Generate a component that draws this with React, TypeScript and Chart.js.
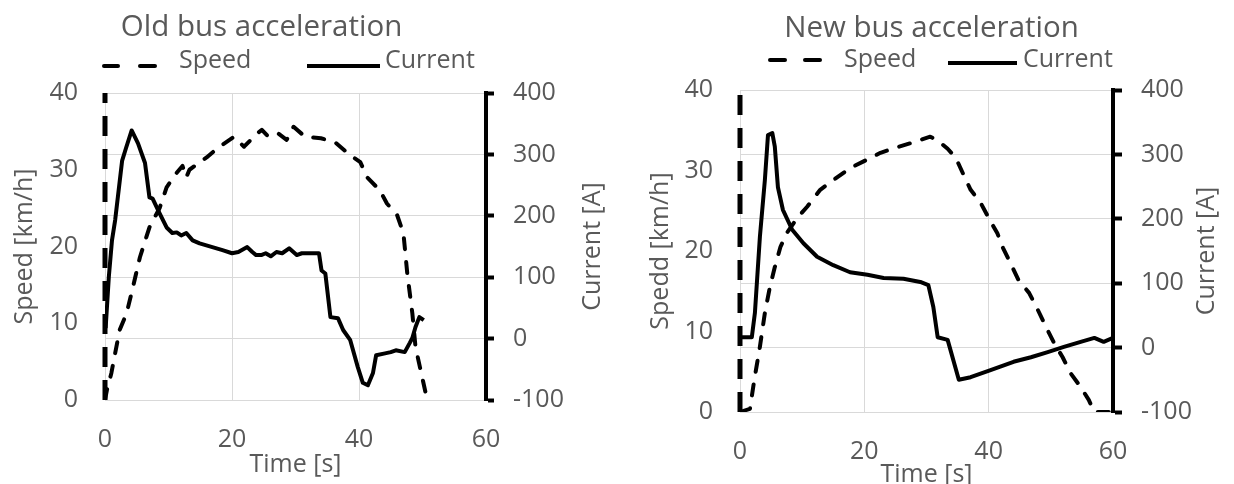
import { useEffect, useRef } from "react";
import { Chart, registerables } from "chart.js";

Chart.register(...registerables);

// ---------- tick labels ----------
const timeTicks = [0, 20, 40, 60];
const speedTicks = [0, 10, 20, 30, 40];
const currentTicks = [-100, 0, 100, 200, 300, 400];

// ---------- Old bus ----------
const oldTitle = "Old bus acceleration";
const oldSpeedAxisTitle = "Speed [km/h]";
const oldSpeedTime = [0, 0.3, 1, 1.6, 2.3, 3.4, 4.4, 5.5, 7, 8.6, 9.7, 11.2, 12.2, 12.8, 13.3, 16, 17.7, 20.3, 21.9, 23.9, 24.7, 25.5, 27, 28.6, 29.7, 31.5, 34, 36.2, 38.6, 40.2, 41.3, 43.3, 44.4, 46, 47, 47.6, 48.4, 48.9, 49.7, 50.5];
const oldSpeed = [0, 1.3, 3.5, 6.1, 9.1, 11.3, 14.7, 18.6, 22.5, 25, 27.7, 29.5, 30.5, 29, 30, 31.6, 32.8, 34.3, 33, 34.7, 35.2, 34.5, 34.9, 33.9, 35.6, 34.3, 34.1, 33.6, 31.9, 31, 29, 27.3, 25.6, 24.1, 21.7, 16.5, 11.3, 6.9, 3.9, 0.9];
const oldCurrentTime = [0.1, 0.6, 1.1, 1.6, 2.7, 3.3, 4.2, 5.2, 6.3, 7, 7.5, 8.6, 9.7, 10.6, 11.3, 12, 12.8, 13.8, 14.9, 16.9, 18.5, 20, 21, 22.4, 23.2, 23.8, 24.6, 25.3, 26.1, 27, 27.9, 29, 30.2, 31, 33.7, 34.1, 34.7, 35.5, 36.7, 37.5, 38.6, 39.8, 40.6, 41.4, 42.2, 42.7, 44.1, 45, 45.8, 47.2, 48, 48.4, 48.9, 49.5, 50.2];
const oldCurrent = [17, 100, 160, 193, 290, 310, 339, 318, 286, 230, 228, 204, 181, 172, 173, 168, 172, 160, 155, 149, 144, 139, 141, 149, 141, 136, 136, 139, 134, 141, 139, 147, 136, 139, 139, 111, 106, 35, 33, 14, -2, -46, -72, -76, -56, -27, -24, -22, -19, -22, -7, 1, 19, 35, 30];

// ---------- New bus ----------
const newTitle = "New bus acceleration";
const newSpeedAxisTitle = "Spedd [km/h]";
const newSpeedTime = [0, 1.6, 2.3, 3.2, 4, 4.8, 5.6, 6.5, 7.5, 9.2, 10.8, 12.9, 15, 17.7, 19.8, 22.6, 25.3, 27.9, 30.6, 32, 33.4, 34.7, 36, 37.1, 38.7, 40, 41.4, 42.3, 43.5, 44.8, 46.5, 47.9, 49.2, 50.5, 51.9, 53.2, 54.8, 56.1, 57, 60];
const newSpeed = [0, 0.4, 4, 8.1, 12.3, 15.5, 18, 20.5, 22.2, 24.1, 25.5, 27.6, 28.8, 30.3, 31.1, 32.2, 32.9, 33.5, 34.2, 33.6, 32.7, 31.6, 29.4, 27.6, 26, 24.1, 22.2, 20.4, 18.5, 16.4, 14.8, 12.7, 10.6, 8.6, 6.8, 4.8, 3.1, 1.5, 0, 0];
const newCurrentTime = [0, 1.9, 2.4, 3.2, 4, 4.5, 5.2, 5.6, 6.1, 6.9, 8.4, 10.2, 12.4, 15, 17.7, 20.5, 23.1, 26.3, 29, 30.3, 31.1, 31.8, 33.4, 35.2, 37.1, 40.3, 44, 46.8, 49.5, 52.1, 54.8, 57, 58.5, 60];
const newCurrent = [16, 16, 54, 172, 260, 330, 333, 312, 249, 214, 183, 162, 141, 128, 117, 113, 108, 107, 102, 97, 63, 16, 12, -50, -46, -35, -22, -15, -7, 1, 9, 15, 9, 15];

const seriesNames = ["Speed", "Current"];
const timeAxisTitle = "Time [s]";
const currentAxisTitle = "Current [A]";

const FONT = '"Open Sans", sans-serif';
const TEXT = "#595959";
const GRID = "#d9d9d9";

type Layout = {
  areaTop: number;
  leftW: number;
  rightW: number;
  xH: number;
  leftTitlePad: number;
  xTitlePad: number;
  rightTitleX: number;
  titleX: number;
  titleY: number;
  dashes: number[][];
  dashY: number;
  lineX: number[];
  lineY: number;
  speedTextX: number;
  currentTextX: number;
  legendBase: number;
  tickLen: number;
};

function buildConfig(
  title: string,
  speedTitle: string,
  sT: number[],
  sV: number[],
  cT: number[],
  cV: number[],
  L: Layout
): any {
  const speedPts = sT.map((t, i) => ({ x: t, y: sV[i] }));
  const currPts = cT.map((t, i) => ({ x: t, y: cV[i] }));
  const tickFont = { family: FONT, size: 25 };
  const overlay = {
    id: "overlay",
    beforeDatasetsDraw(chart: any) {
      // dashed speed axis line (left), drawn from the bottom upward
      const ctx = chart.ctx as CanvasRenderingContext2D;
      const ca = chart.chartArea;
      ctx.save();
      ctx.strokeStyle = "#000";
      ctx.lineWidth = 5;
      ctx.setLineDash([20, 13]);
      ctx.lineCap = "butt";
      ctx.beginPath();
      ctx.moveTo(ca.left, ca.bottom);
      ctx.lineTo(ca.left, ca.top);
      ctx.stroke();
      ctx.restore();
    },
    afterDraw(chart: any) {
      const ctx = chart.ctx as CanvasRenderingContext2D;
      const ca = chart.chartArea;
      ctx.save();
      ctx.fillStyle = TEXT;
      ctx.font = `29.5px ${FONT}`;
      ctx.textAlign = "center";
      ctx.textBaseline = "alphabetic";
      ctx.fillText(title, L.titleX, L.titleY);
      // legend
      ctx.strokeStyle = "#000";
      ctx.lineWidth = 4;
      ctx.lineCap = "round";
      for (const d of L.dashes) {
        ctx.beginPath();
        ctx.moveTo(d[0], L.dashY);
        ctx.lineTo(d[1], L.dashY);
        ctx.stroke();
      }
      ctx.lineCap = "butt";
      ctx.beginPath();
      ctx.moveTo(L.lineX[0], L.lineY);
      ctx.lineTo(L.lineX[1], L.lineY);
      ctx.stroke();
      ctx.font = `25px ${FONT}`;
      ctx.textAlign = "left";
      ctx.fillText(chart.data.datasets[0].label, L.speedTextX, L.legendBase);
      ctx.fillText(chart.data.datasets[1].label, L.currentTextX, L.legendBase);
      // right axis title, reading upward
      ctx.translate(L.rightTitleX, (ca.top + ca.bottom) / 2);
      ctx.rotate(-Math.PI / 2);
      ctx.textAlign = "center";
      ctx.textBaseline = "middle";
      ctx.fillText(currentAxisTitle, 0, 0);
      ctx.restore();
    },
  };

  return {
    type: "line",
    data: {
      datasets: [
        {
          label: seriesNames[0],
          data: speedPts,
          yAxisID: "ySpeed",
          borderColor: "#000",
          borderWidth: 4,
          borderDash: [11, 13],
          borderCapStyle: "round",
          borderJoinStyle: "round",
          pointRadius: 0,
          tension: 0,
          fill: false,
        },
        {
          label: seriesNames[1],
          data: currPts,
          yAxisID: "yCurrent",
          borderColor: "#000",
          borderWidth: 4,
          borderJoinStyle: "round",
          pointRadius: 0,
          tension: 0,
          fill: false,
        },
      ],
    },
    options: {
      animation: false,
      responsive: false,
      devicePixelRatio: 1,
      layout: { padding: { top: L.areaTop, left: 0, right: 0, bottom: 0 } },
      plugins: {
        legend: { display: false },
        title: { display: false },
        tooltip: { enabled: false },
      },
      scales: {
        x: {
          type: "linear",
          min: 0,
          max: 60,
          afterBuildTicks: (s: any) => {
            s.ticks = timeTicks.map((v) => ({ value: v }));
          },
          afterFit: (s: any) => {
            s.height = L.xH;
          },
          grid: { color: GRID, lineWidth: 1, drawTicks: false },
          border: { color: GRID, width: 1 },
          ticks: { font: tickFont, color: TEXT, padding: 25, maxRotation: 0 },
          title: {
            display: true,
            text: timeAxisTitle,
            font: { family: FONT, size: 25, lineHeight: 1 },
            color: TEXT,
            padding: { top: 0, bottom: L.xTitlePad },
          },
        },
        ySpeed: {
          type: "linear",
          position: "left",
          min: 0,
          max: 40,
          afterBuildTicks: (s: any) => {
            s.ticks = speedTicks.map((v) => ({ value: v }));
          },
          afterFit: (s: any) => {
            s.width = L.leftW;
          },
          grid: { drawOnChartArea: false, drawTicks: false },
          border: { display: false },
          ticks: { font: tickFont, color: TEXT, padding: 27 },
          title: {
            display: true,
            text: speedTitle,
            font: { family: FONT, size: 25, lineHeight: 1.2 },
            color: TEXT,
            padding: { top: L.leftTitlePad, bottom: 0 },
          },
        },
        yCurrent: {
          type: "linear",
          position: "right",
          min: -100,
          max: 400,
          afterBuildTicks: (s: any) => {
            s.ticks = currentTicks.map((v) => ({ value: v }));
          },
          afterFit: (s: any) => {
            s.width = L.rightW;
          },
          grid: {
            color: GRID,
            lineWidth: 1,
            drawTicks: true,
            tickLength: L.tickLen,
            tickColor: "#000",
            tickWidth: 4,
          },
          border: { color: "#000", width: 4 },
          ticks: { font: tickFont, color: TEXT, padding: 19 },
          title: { display: false },
        },
      },
    },
    plugins: [overlay],
  };
}

const oldLayout: Layout = {
  areaTop: 93,
  leftW: 105,
  rightW: 131,
  xH: 84,
  leftTitlePad: 10,
  xTitlePad: 7,
  rightTitleX: 593,
  titleX: 261.5,
  titleY: 36,
  dashes: [
    [104, 118],
    [140, 155],
  ],
  dashY: 66,
  lineX: [307, 380],
  lineY: 66,
  speedTextX: 179,
  currentTextX: 385,
  legendBase: 68,
  tickLen: 8,
};

const newLayout: Layout = {
  areaTop: 90,
  leftW: 123,
  rightW: 121,
  xH: 72,
  leftTitlePad: 29,
  xTitlePad: -3,
  rightTitleX: 590,
  titleX: 314.5,
  titleY: 37,
  dashes: [
    [153, 168],
    [188, 203],
  ],
  dashY: 60,
  lineX: [331, 400],
  lineY: 63,
  speedTextX: 227,
  currentTextX: 406,
  legendBase: 67,
  tickLen: 9,
};

function Panel(props: { cfg: () => any; left: number }) {
  const ref = useRef<HTMLCanvasElement | null>(null);
  useEffect(() => {
    if (!ref.current) return;
    const chart = new Chart(ref.current, props.cfg());
    return () => chart.destroy();
  }, []);
  return (
    <canvas
      ref={ref}
      width={617}
      height={484}
      style={{ position: "absolute", left: props.left, top: 0, width: 617, height: 484, display: "block" }}
    />
  );
}

export default function App() {
  return (
    <div style={{ position: "fixed", left: 0, top: 0, width: 1234, height: 484, background: "#fff", overflow: "hidden" }}>
      <Panel
        left={0}
        cfg={() => buildConfig(oldTitle, oldSpeedAxisTitle, oldSpeedTime, oldSpeed, oldCurrentTime, oldCurrent, oldLayout)}
      />
      <Panel
        left={617}
        cfg={() => buildConfig(newTitle, newSpeedAxisTitle, newSpeedTime, newSpeed, newCurrentTime, newCurrent, newLayout)}
      />
    </div>
  );
}
